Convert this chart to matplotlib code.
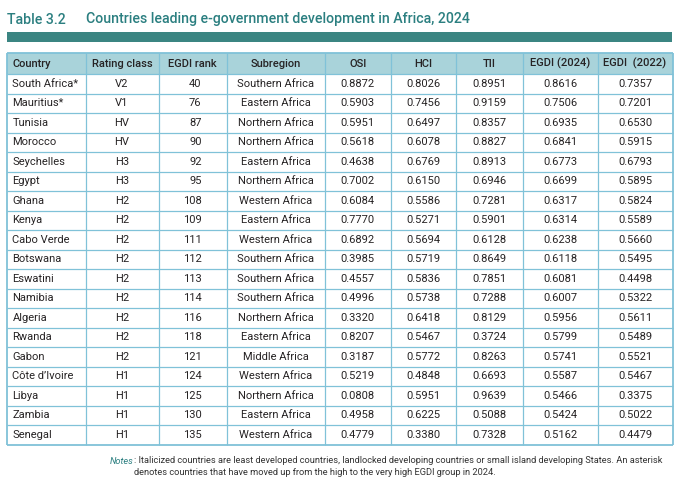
import matplotlib
matplotlib.use("Agg")
import matplotlib.pyplot as plt
from matplotlib.patches import Rectangle

title_label = "Table 3.2"
title_text = "Countries leading e-government development in Africa, 2024"
columns = ["Country", "Rating class", "EGDI rank", "Subregion", "OSI", "HCI", "TII", "EGDI (2024)", "EGDI  (2022)"]
countries = ["South Africa*", "Mauritius*", "Tunisia", "Morocco", "Seychelles", "Egypt", "Ghana", "Kenya",
             "Cabo Verde", "Botswana", "Eswatini", "Namibia", "Algeria", "Rwanda", "Gabon", "Côte d’Ivoire",
             "Libya", "Zambia", "Senegal"]
rating_class = ["V2", "V1", "HV", "HV", "H3", "H3", "H2", "H2", "H2", "H2", "H2", "H2", "H2", "H2", "H2",
                "H1", "H1", "H1", "H1"]
egdi_rank = [40, 76, 87, 90, 92, 95, 108, 109, 111, 112, 113, 114, 116, 118, 121, 124, 125, 130, 135]
subregion = ["Southern Africa", "Eastern Africa", "Northern Africa", "Northern Africa", "Eastern Africa",
             "Northern Africa", "Western Africa", "Eastern Africa", "Western Africa", "Southern Africa",
             "Southern Africa", "Southern Africa", "Northern Africa", "Eastern Africa", "Middle Africa",
             "Western Africa", "Northern Africa", "Eastern Africa", "Western Africa"]
osi = [0.8872, 0.5903, 0.5951, 0.5618, 0.4638, 0.7002, 0.6084, 0.7770, 0.6892, 0.3985, 0.4557, 0.4996,
       0.3320, 0.8207, 0.3187, 0.5219, 0.0808, 0.4958, 0.4779]
hci = [0.8026, 0.7456, 0.6497, 0.6078, 0.6769, 0.6150, 0.5586, 0.5271, 0.5694, 0.5719, 0.5836, 0.5738,
       0.6418, 0.5467, 0.5772, 0.4848, 0.5951, 0.6225, 0.3380]
tii = [0.8951, 0.9159, 0.8357, 0.8827, 0.8913, 0.6946, 0.7281, 0.5901, 0.6128, 0.8649, 0.7851, 0.7288,
       0.8129, 0.3724, 0.8263, 0.6693, 0.9639, 0.5088, 0.7328]
egdi_2024 = [0.8616, 0.7506, 0.6935, 0.6841, 0.6773, 0.6699, 0.6317, 0.6314, 0.6238, 0.6118, 0.6081, 0.6007,
             0.5956, 0.5799, 0.5741, 0.5587, 0.5466, 0.5424, 0.5162]
egdi_2022 = [0.7357, 0.7201, 0.6530, 0.5915, 0.6793, 0.5895, 0.5824, 0.5589, 0.5660, 0.5495, 0.4498, 0.5322,
             0.5611, 0.5489, 0.5521, 0.5467, 0.3375, 0.5022, 0.4479]
notes_label = "Notes"
notes_text = (": Italicized countries are least developed countries, landlocked developing countries or small island developing States. An asterisk\n"
              "denotes countries that have moved up from the high to the very high EGDI group in 2024.")

FONT = ["Roboto", "DejaVu Sans"]
plt.rcParams["font.family"] = FONT

W, H = 680, 493
fig = plt.figure(figsize=(W / 100, H / 100), dpi=100)
ax = fig.add_axes([0, 0, 1, 1])
ax.set_xlim(0, W)
ax.set_ylim(H, 0)
ax.axis("off")

TEAL = "#2b7f80"
BAR = "#3b8582"
HEAD_BG = "#a9d3da"
GRID = "#80c2d8"
TXT = "#262324"

# Title
ax.text(7, 19.5, title_label, color=TEAL, fontsize=10.2, fontweight="medium", va="center", ha="left")
ax.text(86, 19.5, title_text, color=TEAL, fontsize=10.2, fontweight="medium", va="center", ha="left")
ax.add_patch(Rectangle((7, 32), 665, 10, facecolor=BAR, edgecolor="none"))

# Table geometry
col_edges = [7, 85.5, 158.5, 226.7, 325, 390.5, 456, 522.5, 597.5, 672.5]
top = 53.3
head_h = 20.8
row_h = 19.5
n = len(countries)
bottom = top + head_h + n * row_h

ax.add_patch(Rectangle((col_edges[0], top), col_edges[-1] - col_edges[0], head_h,
                       facecolor=HEAD_BG, edgecolor="none"))

# Grid lines
for x in col_edges:
    lw = 1.3 if x in (col_edges[0], col_edges[-1]) else 0.9
    ax.plot([x, x], [top, bottom], color=GRID, lw=lw, solid_capstyle="butt")
ys = [top, top + head_h] + [top + head_h + (i + 1) * row_h for i in range(n)]
for i, y in enumerate(ys):
    lw = 1.3 if i in (0, len(ys) - 1) else 0.9
    ax.plot([col_edges[0], col_edges[-1]], [y, y], color=GRID, lw=lw, solid_capstyle="butt")

FS = 8.0
# Header text
for j, name in enumerate(columns):
    cy = top + head_h / 2
    if j == 0:
        ax.text(col_edges[0] + 5.5, cy, name, fontsize=FS, fontweight="medium", color=TXT,
                ha="left", va="center")
    else:
        cx = (col_edges[j] + col_edges[j + 1]) / 2
        ax.text(cx, cy, name, fontsize=FS, fontweight="medium", color=TXT, ha="center", va="center")

# Body text
for i in range(n):
    cy = top + head_h + (i + 0.5) * row_h
    vals = [countries[i], rating_class[i], str(egdi_rank[i]), subregion[i],
            f"{osi[i]:.4f}", f"{hci[i]:.4f}", f"{tii[i]:.4f}", f"{egdi_2024[i]:.4f}", f"{egdi_2022[i]:.4f}"]
    for j, v in enumerate(vals):
        if j == 0:
            ax.text(col_edges[0] + 5.5, cy, v, fontsize=FS, color=TXT, ha="left", va="center")
        elif j == 2:
            ax.text(201.5, cy, v, fontsize=FS, color=TXT, ha="right", va="center")
        else:
            cx = (col_edges[j] + col_edges[j + 1]) / 2
            ax.text(cx, cy, v, fontsize=FS, color=TXT, ha="center", va="center")

# Notes
t1 = ax.text(110, 461, notes_label, fontsize=6.7, style="italic", color=TEAL, ha="left", va="center")
fig.canvas.draw()
bb = t1.get_window_extent()
x_end = ax.transData.inverted().transform((bb.x1, bb.y0))[0]
ax.text(x_end, 466.5, notes_text, fontsize=6.7, color="#333333", ha="left", va="center", linespacing=1.3)

fig.savefig("out.png", dpi=100)
